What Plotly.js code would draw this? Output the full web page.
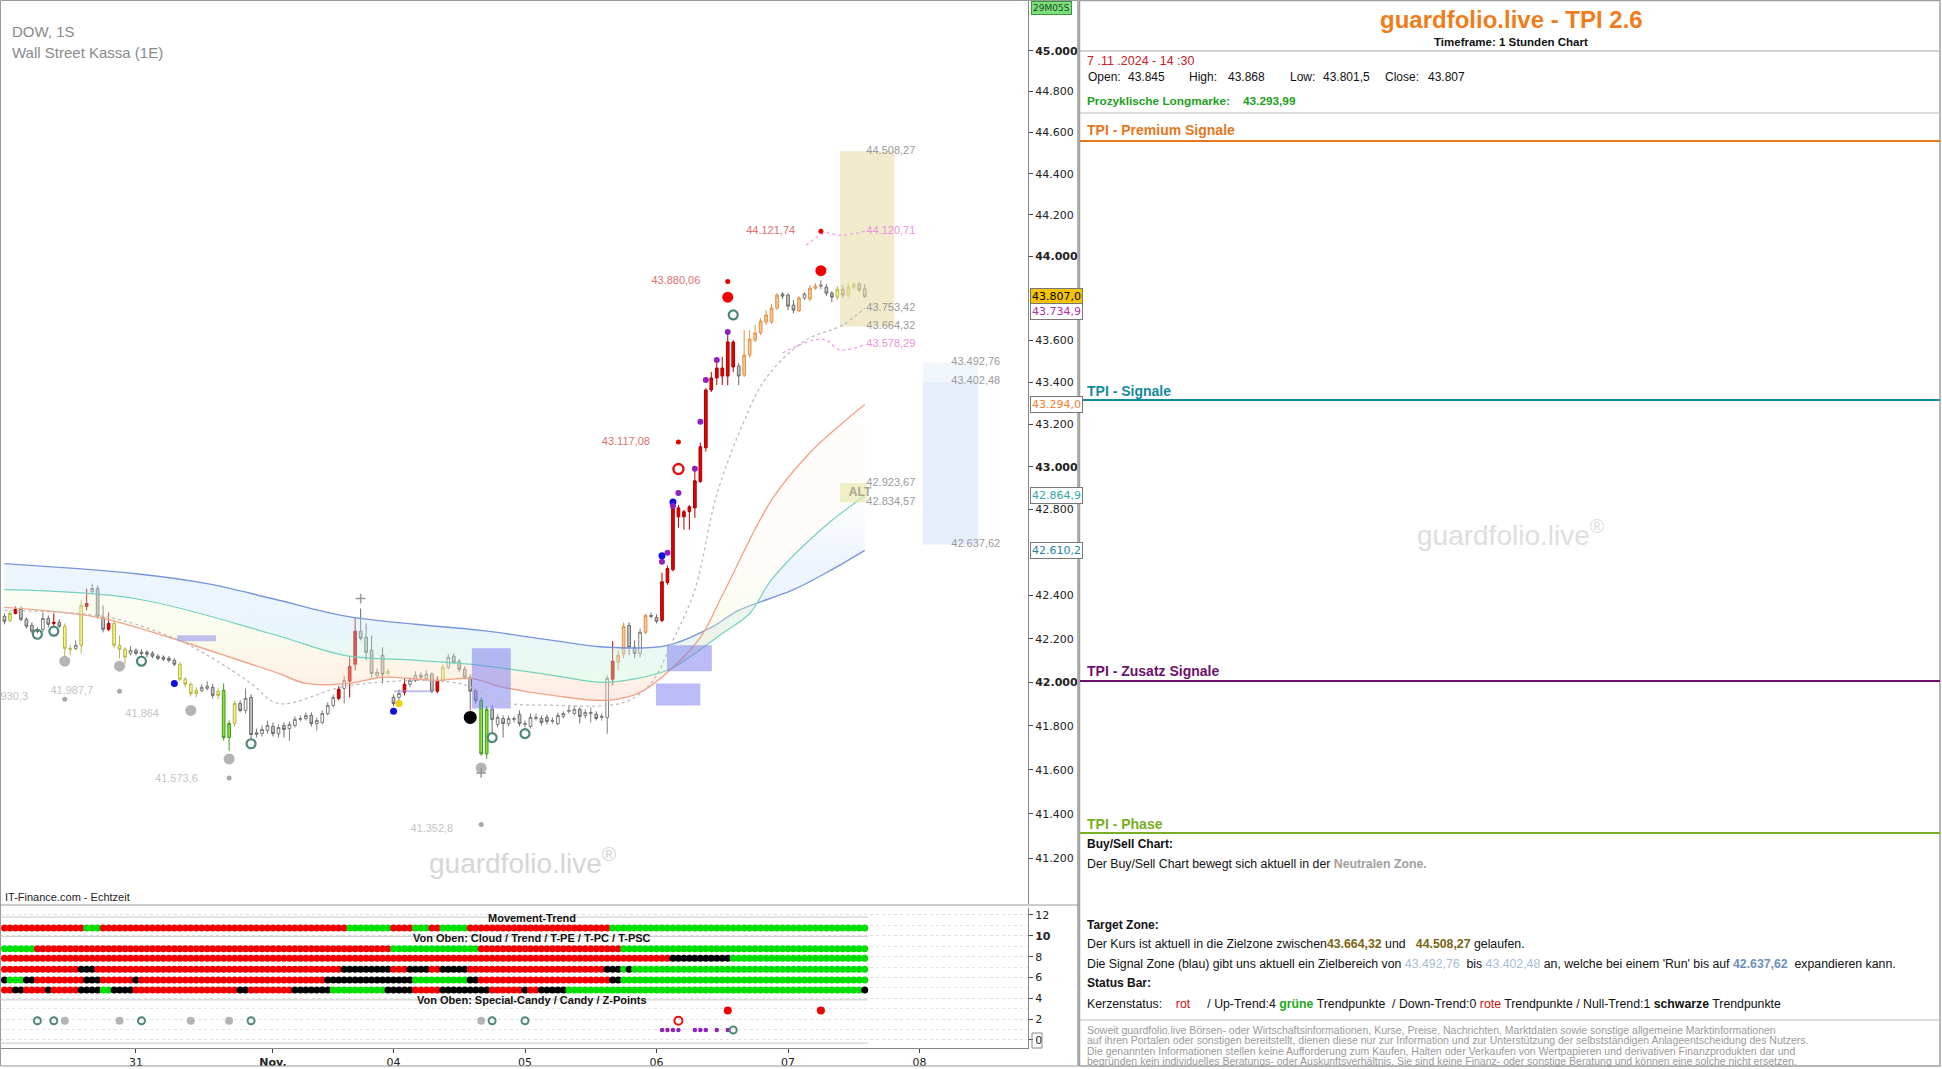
<!DOCTYPE html>
<html><head><meta charset="utf-8">
<script src="https://cdn.plot.ly/plotly-3.0.1.min.js"></script>
<style>html,body{margin:0;padding:0;background:#fff;overflow:hidden}#chart{width:1942px;height:1069px}</style>
</head><body><div id="chart"></div>
<script>
// ================= DATA =================
const dateTickIdx = [24, 49, 71, 95, 119, 143, 167];
const dateTickLbl = ['31', '<b>Nov.</b>', '04', '05', '06', '07', '08'];

const open = [42304,42285,42317,42336,42290,42262,42239,42244,42294,42271,
42276,42258,42156,42156,42170,42350,42418,42432,42299,42271,
42271,42170,42152,42133,42147,42138,42138,42133,42120,42115,
42110,42101,42083,42014,41991,41963,41963,41972,41977,41959,
41963,41747,41811,41903,41871,41931,41761,41765,41779,41798,
41765,41802,41788,41802,41830,41834,41848,41811,41816,41857,
41894,41926,41972,42005,42083,42235,42207,42147,42032,42124,
42041,41931,41931,41954,41991,42009,42032,42018,42037,41959,
42009,42069,42120,42097,42060,42023,41963,41917,41673,41876,
41807,41834,41811,41830,41853,41807,41798,41834,41834,41839,
41821,41811,41844,41867,41857,41876,41848,41857,41853,41839,
41839,42014,42092,42129,42262,42161,42133,42230,42308,42299,
42285,42460,42520,42766,42766,42790,42808,42931,43090,43363,
43420,43429,43429,43591,43477,43434,43529,43600,43634,43686,
43686,43753,43820,43815,43767,43739,43801,43796,43848,43858,
43853,43824,43805,43843,43815,43853,43867,43845];
const high = [42317,42331,42350,42350,42299,42276,42253,42322,42308,42317,
42290,42271,42170,42193,42377,42432,42455,42446,42354,42322,
42285,42216,42161,42166,42156,42152,42147,42143,42129,42124,
42120,42110,42092,42023,42000,41977,41991,42005,41991,41972,
41995,41825,41917,41917,41972,41945,41788,41802,41825,41816,
41807,41816,41821,41844,41848,41862,41862,41839,41871,41908,
41945,41982,42028,42115,42299,42340,42271,42216,42064,42161,
42064,41945,41968,42018,42023,42051,42046,42055,42046,42028,
42083,42129,42133,42106,42074,42037,41972,41931,41890,41894,
41853,41848,41848,41844,41871,41825,41857,41857,41848,41853,
41839,41862,41867,41894,41894,41885,41876,41885,41867,41857,
42032,42189,42147,42276,42276,42193,42248,42317,42322,42313,
42506,42539,42817,42822,42799,42822,42996,43114,43372,43448,
43496,43520,43624,43600,43491,43648,43648,43672,43705,43743,
43772,43824,43829,43824,43791,43810,43829,43862,43872,43886,
43867,43834,43858,43862,43872,43877,43877,43868];
const low = [42267,42276,42313,42281,42249,42225,42225,42230,42253,42253,
42249,42115,42124,42147,42133,42331,42409,42294,42230,42235,
42156,42110,42083,42124,42124,42124,42115,42110,42101,42097,
42092,42074,42005,41977,41935,41931,41954,41963,41926,41922,
41733,41687,41798,41862,41857,41742,41747,41752,41765,41752,
41747,41747,41733,41793,41821,41825,41798,41779,41807,41848,
41885,41917,41903,41931,42055,42193,42101,42023,42018,41995,
42028,41890,41917,41940,41977,42000,42014,42009,41949,41949,
42000,42060,42083,42046,42014,41871,41903,41664,41650,41765,
41793,41747,41798,41816,41798,41793,41788,41825,41802,41807,
41811,41802,41834,41857,41848,41811,41834,41816,41825,41825,
41765,41986,42055,42110,42124,42110,42115,42221,42294,42271,
42276,42450,42511,42715,42706,42706,42761,42926,43072,43353,
43386,43386,43386,43448,43386,43424,43515,43591,43624,43672,
43677,43743,43796,43743,43729,43734,43791,43786,43839,43843,
43810,43781,43791,43801,43805,43839,43829,43801.5];
const close = [42281,42317,42336,42290,42258,42235,42235,42294,42267,42276,
42258,42156,42152,42170,42354,42363,42432,42304,42244,42244,
42170,42152,42115,42147,42133,42133,42129,42120,42110,42106,
42101,42083,42014,41991,41949,41949,41977,41982,41940,41940,
41747,41811,41903,41871,41926,41761,41770,41784,41802,41765,
41793,41784,41807,41830,41834,41848,41811,41825,41857,41894,
41931,41968,42009,42074,42235,42202,42138,42041,42046,42037,
42051,41903,41949,41991,42009,42032,42023,42037,41959,42009,
42069,42115,42092,42060,42023,41959,41917,41673,41876,41830,
41839,41811,41834,41834,41811,41811,41839,41839,41816,41821,
41825,41848,41857,41871,41876,41844,41862,41862,41834,41844,
42018,42097,42124,42258,42161,42133,42230,42308,42304,42281,
42464,42525,42808,42808,42790,42813,42935,43095,43363,43420,
43467,43467,43591,43472,43429,43529,43605,43634,43691,43720,
43753,43815,43810,43762,43743,43801,43820,43848,43858,43862,
43824,43805,43843,43815,43853,43867,43839,43807];
// candle colour class per bar: n=neutral, y=yellow, r=red, g=green, o=orange
const candleClass = ('nyrnnnnnnr' + 'nyynyrnnnr' + 'yyynnnnnnn' + 'nnyyyynnny' + 'ggynnnnnnn' +
  'nnnnnnnnnn' + 'nrnrrnnnnn' + 'ynnrnnnnnr' + 'ynnnnnnggn' + 'nnnnnnnnnn' +
  'nnnnnnnnnn' + 'nroonnnonn' + 'rrrrrrrrrr' + 'rrrrnooooo' + 'oonnnonoon' + 'nnynyynn').split('');

// cloud ribbon
const cloudBlueX = [0,24,37,49,62,75,87,100,110,121,129,134,144,151,157];
const cloudBlueY = [42548,42501,42455,42385,42306,42267,42239,42193,42161,42170,42253,42331,42427,42520,42610];
const cloudTealX = [0,24,49,62,75,87,100,110,121,125,131,136,140,149,157];
const cloudTealY = [42427,42385,42221,42124,42101,42078,42032,42000,42055,42115,42225,42317,42474,42706,42865];
const cloudRedX = [0,17,30,39,50,55,63,69,79,85,91,100,110,116,121,127,131,140,147,153,157];
const cloudRedY = [42345,42299,42207,42133,42041,41995,41995,42023,42009,42018,41977,41940,41917,41954,42046,42207,42400,42845,43067,43208,43294];
// dotted moving average
const maX = [0,19,31,38,45,50,63,83,91,100,110,114,118,122,126,130,135,139,146,153,157];
const maY = [42331,42299,42202,42110,41995,41903,41986,41995,41908,41895,41894,41917,41995,42193,42427,42870,43217,43420,43596,43672,43753];
const pinkLowX = [142,147.6,150,152.5,157];
const pinkLowY = [43539,43600,43600,43553,43578];
const pinkHighX = [146.3,149.8,152.5,157];
const pinkHighY = [44054,44112,44102,44121];

// zones
const targetZoneX = [152.5, 162.4];  const targetZone = [43664.32, 44508.27];
const altZoneX = [152.5, 157.4];     const altZone = [42834.57, 42923.67];
const signalZoneX = [167.6, 177.7];  const signalZone = [42637.62, 43402.48, 43492.76];
const boxX0 = [85.3, 120.9, 118.9];  const boxX1 = [92.4, 129.1, 127.0];
const boxLo = [41880, 42051, 41894]; const boxHi = [42156, 42170, 41995];
const lavX0 = [31.5, 71.1]; const lavX1 = [38.6, 78.2];
const lavLo = [42189, 41954]; const lavHi = [42216, 41963];

// signal markers
const grayBigX = [11,21,34,41,87];        const grayBigY = [42097,42074,41871,41650,41609];
const graySmallX = [11,21,41,87];         const graySmallY = [41922,41959,41563,41353];
const grayCrossX = [65,87];               const grayCrossY = [42386,41586];
const tealRingX = [6,9,25,45,89,95,133];  const tealRingY = [42221,42235,42097,41719,41747,41765,43720];
const blueDotX = [31,71,120,122];         const blueDotY = [41995,41867,42585,42836];
const yellowDotX = [72];                  const yellowDotY = [41903];
const blackDotX = [85];                   const blackDotY = [41839];
const purpleDotX = [120,121,122,123,126,127,128,130,132];
const purpleDotY = [42557,42599,42817,42878,42991,43213,43410,43505,43638];
const redSmallX = [123,132,149];          const redSmallY = [43117,43880,44122];
const redBigX = [132,149];                const redBigY = [43805,43932];
const redRingX = [123];                   const redRingY = [42990];

// price labels
const redLabelX = [144.3,127,117.8]; const redLabelY = [44121.74,43880.06,43117.08];
const redLabelT = ['44.121,74','43.880,06','43.117,08'];
const grayLabelX = [4.3,16.2,28.2,35.3,81.9]; const grayLabelY = [41930.3,41959,41853,41558,41333];
const grayLabelT = ['41.930,3','41.987,7','41.864','41.573,6','41.352,8'];
const zoneLabelX = [157.3,157.3,157.3,157.3,157.3,157.3,157.3];
const zoneLabelY = [44508.27,44120.71,43753.42,43664.32,43578.29,42923.67,42834.57];
const zoneLabelT = ['44.508,27','44.120,71','43.753,42','43.664,32','43.578,29','42.923,67','42.834,57'];
const zoneLabelC = ['#9a9a9a','#ee90e0','#9a9a9a','#9a9a9a','#ee90e0','#9a9a9a','#9a9a9a'];
const sigLabelX = [172.8,172.8,172.8]; const sigLabelY = [43492.76,43402.48,42637.62];
const sigLabelT = ['43.492,76','43.402,48','42.637,62'];

// price axis
const priceTicks = [41200,41400,41600,41800,42000,42200,42400,42800,43000,43200,43400,43600,44000,44200,44400,44600,44800,45000];
const lastBadges = [
  {v:43807.0, t:'43.807,0', c:'#000', bg:'#f6c400'},
  {v:43734.9, t:'43.734,9', c:'#b030b0', bg:'#fff'},
  {v:43294.0, t:'43.294,0', c:'#f08030', bg:'#fff'},
  {v:42864.9, t:'42.864,9', c:'#30a8a8', bg:'#fff'},
  {v:42610.2, t:'42.610,2', c:'#1f86a0', bg:'#fff'}];

// last-bar info (right panel)
const ohlcNames = ['Open:', 'High:', 'Low:', 'Close:'];
const ohlcVals = ['43.845', '43.868', '43.801,5', '43.807'];

// status bar rows (run-length: colour, bars)
const rowMovement = [['r',15],['g',3],['r',45],['g',8],['r',4],['g',3],['r',2],['g',5],['r',26],['g',47]];
const rowCloud = [['g',6],['r',65],['g',16],['r',26],['g',45]];
const rowTrend = [['r',122],['k',11],['g',25]];
const rowTPE = [['r',14],['k',3],['r',45],['k',9],['r',3],['k',4],['r',2],['k',5],['r',25],['k',3],['g',1],['k',1],['g',43]];
const rowTPC = [['k',1],['g',3],['k',2],['r',9],['k',3],['r',6],['k',1],['r',34],['k',16],['g',10],['k',2],['r',24],['k',2],['g',45]];
const rowTPSC = [['r',2],['k',2],['r',4],['k',1],['r',5],['k',4],['g',2],['k',4],['r',19],['k',2],['r',8],['k',7],['g',10],['k',5],['r',5],['k',9],['r',6],['k',1],['r',2],['k',5],['g',54],['k',1]];
const rowLevels = [10.75, 8.75, 7.85, 6.8, 5.75, 4.8];
const specialCandyX = [132,149];
const candyRingX = [6,9,25,45,89,95]; const candyGrayX = [11,21,34,41,87]; const candyRedRingX = [123];
const zPointX = [120,121,122,123,126,127,128,130,132]; const zPointRingX = [133];
const specialLevels = [2.83, 1.85, 0.96];

// ================= BUILD =================
const W = 1942, H = 1069;
const px = v => v / W, py = v => 1 - v / H;
const F_AX = '"DejaVu Sans", Verdana, sans-serif';
const F_TX = '"Liberation Sans", Arial, sans-serif';
const traces = [];
const skip = 'skip';

// cloud
traces.push({type:'scatter', x:cloudBlueX, y:cloudBlueY, mode:'lines', line:{color:'#7896dc', width:1.4, shape:'spline'}, hoverinfo:skip});
traces.push({type:'scatter', x:cloudTealX, y:cloudTealY, mode:'lines', line:{color:'#74d2bf', width:1.2, shape:'spline'}, fill:'tonexty',
  fillcolor:'rgba(190,222,245,0.3)',
  fillgradient:{type:'vertical', colorscale:[[0,'rgba(205,245,205,0.40)'],[0.3,'rgba(195,228,245,0.38)'],[0.65,'rgba(200,220,248,0.30)'],[1,'rgba(230,238,252,0.12)']]},
  hoverinfo:skip});
traces.push({type:'scatter', x:cloudRedX, y:cloudRedY, mode:'lines', line:{color:'#f2a487', width:1.4, shape:'spline'}, fill:'tonexty',
  fillcolor:'rgba(252,232,200,0.3)',
  fillgradient:{type:'vertical', colorscale:[[0,'rgba(250,205,195,0.42)'],[0.1,'rgba(252,228,195,0.40)'],[0.28,'rgba(238,248,205,0.32)'],[0.5,'rgba(252,236,225,0.18)'],[1,'rgba(255,236,230,0.12)']]},
  hoverinfo:skip});

function rect(x0, x1, y0, y1, fill, lineColor) {
  traces.push({type:'scatter', x:[x0,x1,x1,x0,x0], y:[y0,y0,y1,y1,y0], mode:'lines', fill:'toself', fillcolor:fill,
    line:{width:lineColor ? 1 : 0, color:lineColor || 'rgba(0,0,0,0)'}, hoverinfo:skip});
}
rect(targetZoneX[0], targetZoneX[1], targetZone[0], targetZone[1], 'rgba(232,222,170,0.6)');
rect(altZoneX[0], altZoneX[1], altZone[0], altZone[1], 'rgba(232,232,175,0.7)');
rect(signalZoneX[0], signalZoneX[1], signalZone[0], signalZone[1], 'rgba(214,228,250,0.6)');
rect(signalZoneX[0], signalZoneX[1], signalZone[1], signalZone[2], 'rgba(232,240,252,0.6)');
for (let k = 0; k < boxX0.length; k++) rect(boxX0[k], boxX1[k], boxLo[k], boxHi[k], 'rgba(120,120,240,0.5)');
for (let k = 0; k < lavX0.length; k++) rect(lavX0[k], lavX1[k], lavLo[k], lavHi[k], 'rgba(150,150,235,0.6)');

// dotted lines
traces.push({type:'scatter', x:maX, y:maY, mode:'lines', line:{color:'#bcbcbc', width:1.3, dash:'dot', shape:'spline'}, hoverinfo:skip});
traces.push({type:'scatter', x:pinkLowX, y:pinkLowY, mode:'lines', line:{color:'#f0a0e8', width:1.3, dash:'dot', shape:'spline'}, hoverinfo:skip});
traces.push({type:'scatter', x:pinkHighX, y:pinkHighY, mode:'lines', line:{color:'#f0a0e8', width:1.3, dash:'dot', shape:'spline'}, hoverinfo:skip});

// candles
const CLS = {
  n:{inc:['#ffffff','#7c7c7c'], dec:['#c6c6c6','#6c6c6c']},
  y:{inc:['#f4f48a','#b4b446'], dec:['#f4f48a','#b4b446']},
  r:{inc:['#e40000','#b00000'], dec:['#e40000','#b00000']},
  g:{inc:['#86e33a','#3c9c18'], dec:['#86e33a','#3c9c18']},
  o:{inc:['#fac58e','#e0924c'], dec:['#fac58e','#e0924c']}
};
Object.keys(CLS).forEach(c => {
  const idx = [];
  candleClass.forEach((v, i) => { if (v === c) idx.push(i); });
  traces.push({type:'candlestick', x:idx, open:idx.map(i=>open[i]), high:idx.map(i=>high[i]), low:idx.map(i=>low[i]), close:idx.map(i=>close[i]),
    increasing:{fillcolor:CLS[c].inc[0], line:{color:CLS[c].inc[1], width:1}},
    decreasing:{fillcolor:CLS[c].dec[0], line:{color:CLS[c].dec[1], width:1}},
    whiskerwidth:0, hoverinfo:skip, xaxis:'x', yaxis:'y'});
});

function marks(xs, ys, symbol, size, color, lineColor, lineW, yaxis) {
  traces.push({type:'scatter', mode:'markers', x:xs, y:ys, yaxis:yaxis || 'y', hoverinfo:skip,
    marker:{symbol, size, color, line:{color:lineColor || color, width:lineW || 0}}});
}
marks(grayBigX, grayBigY, 'circle', 11, '#b4b4b4');
marks(graySmallX, graySmallY, 'circle', 5, '#a8a8a8');
marks(grayCrossX, grayCrossY, 'cross-thin', 7, '#999', '#999', 1.5);
marks(tealRingX, tealRingY, 'circle-open', 9, '#4f8878', '#4f8878', 2.2);
marks(blueDotX, blueDotY, 'circle', 7, '#1010e0');
marks(yellowDotX, yellowDotY, 'circle', 7, '#f0d000');
marks(blackDotX, blackDotY, 'circle', 13, '#000');
marks(purpleDotX, purpleDotY, 'circle', 6, '#9020c0');
marks(redSmallX, redSmallY, 'circle', 5, '#e00000');
marks(redBigX, redBigY, 'circle', 11, '#f00000');
marks(redRingX, redRingY, 'circle-open', 10, '#e81010', '#e81010', 2.5);

function labels(xs, ys, texts, color, pos, size) {
  traces.push({type:'scatter', mode:'text', x:xs, y:ys, text:texts, textposition:pos, hoverinfo:skip, cliponaxis:true,
    textfont:{family:F_TX, size:size || 11, color}});
}
labels(redLabelX, redLabelY, redLabelT, '#e07070', 'middle left');
labels(grayLabelX, grayLabelY, grayLabelT, '#c4c4c4', 'middle left');
labels(zoneLabelX, zoneLabelY, zoneLabelT, zoneLabelC, 'middle right');
labels(sigLabelX, sigLabelY, sigLabelT, '#9a9a9a', 'middle right');
labels([158.2], [42879], ['<b>ALT</b>'], '#a8a890', 'middle left', 12);

// status bar
const RC = {r:'#f00000', g:'#00e000', k:'#000000'};
const expand = rl => { const out = []; rl.forEach(([c, n]) => { for (let j = 0; j < n; j++) out.push(RC[c]); }); return out; };
const barIdx = open.map((_, i) => i);
[rowMovement, rowCloud, rowTrend, rowTPE, rowTPC, rowTPSC].forEach((row, r) => {
  traces.push({type:'scatter', mode:'markers', x:barIdx, y:barIdx.map(() => rowLevels[r]), yaxis:'y2', hoverinfo:skip,
    marker:{symbol:'circle', size:7, color:expand(row)}});
});
marks(specialCandyX, specialCandyX.map(()=>specialLevels[0]), 'circle', 8, '#f00000', null, 0, 'y2');
marks(candyRingX, candyRingX.map(()=>specialLevels[1]), 'circle-open', 7, '#4f8878', '#4f8878', 2, 'y2');
marks(candyGrayX, candyGrayX.map(()=>specialLevels[1]), 'circle', 8, '#b4b4b4', null, 0, 'y2');
marks(candyRedRingX, candyRedRingX.map(()=>specialLevels[1]), 'circle-open', 8, '#e81010', '#e81010', 2, 'y2');
marks(zPointX, zPointX.map(()=>specialLevels[2]), 'circle', 4.5, '#9020c0', null, 0, 'y2');
marks(zPointRingX, zPointRingX.map(()=>specialLevels[2]), 'circle-open', 7, '#4f8878', '#4f8878', 2, 'y2');

// ================= LAYOUT =================
const fmt = v => { const s = String(v); return s.slice(0, s.length - 3) + '.' + s.slice(-3); };
const ann = [];
const shapes = [];
function T(x, y, text, size, color, opt) {
  ann.push(Object.assign({xref:'paper', yref:'paper', x:px(x), y:py(y), text, showarrow:false, xanchor:'left', yanchor:'middle',
    font:{family:F_TX, size:size, color:color}}, opt || {}));
}
function L(x0, y0, x1, y1, color, w) {
  shapes.push({type:'line', xref:'paper', yref:'paper', x0:px(x0), y0:py(y0), x1:px(x1), y1:py(y1), line:{color, width:w}});
}
// frames
shapes.push({type:'rect', xref:'paper', yref:'paper', x0:px(0.5), x1:px(1078), y0:py(1066), y1:py(0.5), line:{color:'#9a9a9a', width:1}});
shapes.push({type:'rect', xref:'paper', yref:'paper', x0:px(1079.5), x1:px(1940), y0:py(1066), y1:py(0.5), line:{color:'#a0a0a0', width:1.5}});
L(0, 905, 1078, 905, '#9a9a9a', 1);
L(1078, 0, 1078, 1066, '#9a9a9a', 1);
// status-bar separators
[11.8, 9.95, 3.85, -0.3].forEach(v => shapes.push({type:'line', xref:'x', yref:'y2', x0:-0.8, x1:157.6, y0:v, y1:v, line:{color:'#c8c8c8', width:1}}));
// boxed 0 label
shapes.push({type:'rect', xref:'paper', yref:'paper', x0:px(1032), x1:px(1042), y0:py(1048), y1:py(1033), line:{color:'#888', width:1}});

// main chart texts
T(10, 31, 'DOW, 1S', 15, '#8a8a8a');
T(10, 53, 'Wall Street Kassa (1E)', 15, '#8a8a8a');
T(3, 897, 'IT-Finance.com - Echtzeit', 11, '#222');
T(523, 861, 'guardfolio.live<sup>®</sup>', 28, '#d6d6d6', {xanchor:'center'});
ann.push({xref:'x', yref:'y2', x:96.3, y:11.75, text:'<b>Movement-Trend</b>', showarrow:false, font:{family:F_TX, size:11, color:'#111'}});
ann.push({xref:'x', yref:'y2', x:96.3, y:9.75, text:'<b>Von Oben: Cloud / Trend / T-PE / T-PC / T-PSC</b>', showarrow:false, font:{family:F_TX, size:11, color:'#111'}});
ann.push({xref:'x', yref:'y2', x:96.3, y:3.8, text:'<b>Von Oben: Special-Candy / Candy / Z-Points</b>', showarrow:false, font:{family:F_TX, size:11, color:'#111'}});

// right-axis badges
lastBadges.forEach(b => ann.push({xref:'paper', yref:'y', x:px(1030), y:Math.log10(b.v), xanchor:'left', yanchor:'middle', text:b.t, showarrow:false,
  bgcolor:b.bg, bordercolor:'#777', borderwidth:1, borderpad:1, font:{family:F_AX, size:11, color:b.c}}));
ann.push({xref:'paper', yref:'paper', x:px(1031), y:py(8), xanchor:'left', yanchor:'middle', text:'29M05S', showarrow:false,
  bgcolor:'#7ede7e', bordercolor:'#3a9a3a', borderwidth:1, borderpad:1, font:{family:F_AX, size:9, color:'#1d4d1d'}});

// right panel
const BODY = 12.3;
T(1511, 19, '<b>guardfolio.live - TPI 2.6</b>', 24, '#f07d1a', {xanchor:'center'});
T(1511, 42, '<b>Timeframe: 1 Stunden Chart</b>', 11.5, '#111', {xanchor:'center'});
L(1080, 51, 1940, 51, '#aaaaaa', 1.2);
T(1085, 61, '7 .11 .2024 - 14 :30', 12.5, '#cc2020');
const ohlcNameX = [1086, 1187, 1288, 1383];
const ohlcValX = [1126, 1226, 1321, 1426];
ohlcNames.forEach((t, k) => { T(ohlcNameX[k], 77, t, 12, '#111'); T(ohlcValX[k], 77, ohlcVals[k], 12, '#111'); });
T(1085, 101, '<b>Prozyklische Longmarke:</b>', 11.8, '#22a022');
T(1241, 101, '<b>43.293,99</b>', 11.8, '#22a022');
L(1080, 113, 1940, 113, '#bbbbbb', 1.2);
T(1085, 130, '<b>TPI - Premium Signale</b>', 14, '#e8761c');
L(1080, 141, 1940, 141, '#e8761c', 2.2);
T(1085, 391, '<b>TPI - Signale</b>', 14, '#158a9c');
L(1080, 400, 1940, 400, '#158a9c', 2);
T(1085, 671, '<b>TPI - Zusatz Signale</b>', 14, '#6e1070');
L(1080, 681, 1940, 681, '#6e1070', 2);
T(1511, 533, 'guardfolio.live<sup>®</sup>', 28, '#dedede', {xanchor:'center'});
T(1085, 824, '<b>TPI - Phase</b>', 14, '#78ae22');
L(1080, 833, 1940, 833, '#78ae22', 2.2);
T(1085, 844, '<b>Buy/Sell Chart:</b>', 12, '#111');
T(1085, 864, 'Der Buy/Sell Chart bewegt sich aktuell in der <span style="color:#a0a0a0"><b>Neutralen Zone.</b></span>', BODY, '#111');
T(1085, 925, '<b>Target Zone:</b>', 12, '#111');
T(1085, 944, 'Der Kurs ist aktuell in die Zielzone zwischen<b><span style="color:#7a6412">43.664,32</span></b> und &nbsp;&nbsp;<b><span style="color:#7a6412">44.508,27</span></b> gelaufen.', BODY, '#111');
T(1085, 964, 'Die Signal Zone (blau) gibt uns aktuell ein Zielbereich von <span style="color:#a8bcd6">43.492,76</span> &nbsp;bis <span style="color:#a8bcd6">43.402,48</span> an, welche bei einem \'Run\' bis auf <b><span style="color:#7090bc">42.637,62</span></b> &nbsp;expandieren kann.', BODY, '#111');
T(1085, 983, '<b>Status Bar:</b>', 12, '#111');
T(1085, 1004, 'Kerzenstatus: &nbsp;&nbsp;&nbsp;<span style="color:#d01010">rot</span> &nbsp;&nbsp;&nbsp;&nbsp;/ Up-Trend:4 <b><span style="color:#22aa22">grüne</span></b> Trendpunkte &nbsp;/ Down-Trend:0 <span style="color:#d01010">rote</span> Trendpunkte / Null-Trend:1 <b>schwarze</b> Trendpunkte', BODY, '#111');
L(1080, 1020, 1940, 1020, '#bbbbbb', 1.2);
const disc = ['Soweit guardfolio.live Börsen- oder Wirtschaftsinformationen, Kurse, Preise, Nachrichten, Marktdaten sowie sonstige allgemeine Marktinformationen',
  'auf ihren Portalen oder sonstigen bereitstellt, dienen diese nur zur Information und zur Unterstützung der selbstständigen Anlageentscheidung des Nutzers.',
  'Die genannten Informationen stellen keine Aufforderung zum Kaufen, Halten oder Verkaufen von Wertpapieren und derivativen Finanzprodukten dar und',
  'begründen kein individuelles Beratungs- oder Auskunftsverhältnis. Sie sind keine Finanz- oder sonstige Beratung und können eine solche nicht ersetzen.'];
[1029.5, 1040, 1050.5, 1061].forEach((y, k) => T(1085, y, disc[k], 10.5, '#9a9a9a'));

const logTop = Math.log10(45000) + 50.8 / 9153 / Math.LN10;
const logBot = Math.log10(45000) - (904 - 50.8) / 9153 / Math.LN10;

const layout = {
  width: W, height: H, margin: {l:0, r:0, t:0, b:0},
  paper_bgcolor: '#fff', plot_bgcolor: '#fff', showlegend: false, hovermode: false,
  font: {family: F_TX, size: 11, color: '#222'},
  boxgap: 0.3,
  xaxis: {domain:[0, 1028 / W], range:[-0.82, 186.8], anchor:'y2', tickmode:'array', tickvals:dateTickIdx, ticktext:dateTickLbl,
    ticks:'outside', ticklen:4, tickcolor:'#444', showline:true, linecolor:'#888', showgrid:false, zeroline:false,
    rangeslider:{visible:false}, tickfont:{family:F_AX, size:11, color:'#222'}},
  yaxis: {domain:[1 - 904 / H, 1], type:'log', range:[logBot, logTop], side:'right', anchor:'x',
    tickmode:'array', tickvals:priceTicks, ticktext:priceTicks.map(v => v % 1000 === 0 ? '<b>' + fmt(v) + '</b>' : fmt(v)),
    ticks:'outside', ticklen:4, tickcolor:'#444', showline:true, linecolor:'#888', showgrid:false, zeroline:false,
    tickfont:{family:F_AX, size:11, color:'#222'}},
  yaxis2: {domain:[1 - 1048 / H, 1 - 908 / H], range:[-0.77, 12.67], side:'right', anchor:'x',
    tickmode:'array', tickvals:[0,2,4,6,8,10,12], ticktext:['0','2','4','6','8','<b>10</b>','12'],
    ticks:'outside', ticklen:4, tickcolor:'#444', showline:true, linecolor:'#888', zeroline:false,
    showgrid:true, gridcolor:'#dedede', griddash:'dot',
    minor:{dtick:1, tick0:0, showgrid:true, gridcolor:'#e4e4e4', griddash:'dot', ticks:''},
    tickfont:{family:F_AX, size:11, color:'#222'}},
  annotations: ann, shapes: shapes
};

Plotly.newPlot('chart', traces, layout, {displayModeBar:false, staticPlot:true});
</script></body></html>
